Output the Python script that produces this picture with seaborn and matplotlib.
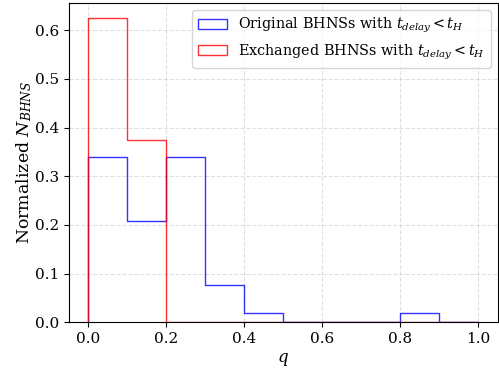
import numpy as np
import pandas as pd
import matplotlib
matplotlib.use("Agg")
import matplotlib.pyplot as plt
from matplotlib.patches import Patch
import seaborn as sns

# Mass-ratio bins and normalized BHNS fractions per bin
bin_edges = [0.0, 0.1, 0.2, 0.3, 0.4, 0.5, 0.6, 0.7, 0.8, 0.9, 1.0]
original_frac = [18/53, 11/53, 18/53, 4/53, 1/53, 0.0, 0.0, 0.0, 1/53, 0.0]
exchanged_frac = [5/8, 3/8, 0.0, 0.0, 0.0, 0.0, 0.0, 0.0, 0.0, 0.0]

series_labels = [r"Original BHNSs with $t_{delay} < t_H$",
                 r"Exchanged BHNSs with $t_{delay} < t_H$"]
series_colors = ["blue", "red"]

sns.set_style("ticks")
plt.rcParams["font.family"] = ["DejaVu Serif"]
plt.rcParams["mathtext.fontset"] = "dejavuserif"
plt.rcParams["text.color"] = "black"
plt.rcParams["axes.labelcolor"] = "black"
plt.rcParams["xtick.color"] = "black"
plt.rcParams["ytick.color"] = "black"
plt.rcParams["axes.edgecolor"] = "black"

edges = np.array(bin_edges)
centers = (edges[:-1] + edges[1:]) / 2

fig = plt.figure(figsize=(4.99, 3.72), dpi=100)
ax = fig.add_axes([0.138, 0.134, 0.86, 0.858])

handles = []
for fracs, lab, col in zip([original_frac, exchanged_frac], series_labels, series_colors):
    df = pd.DataFrame({"q": centers, "w": fracs})
    sns.histplot(data=df, x="q", weights="w", bins=list(bin_edges), element="step",
                 fill=False, color=col, alpha=0.8, linewidth=1.0, ax=ax)
    # closing edge of the outline at the first bin
    ax.vlines(edges[0], 0, fracs[0], color=col, alpha=0.8, linewidth=1.0)
    handles.append(Patch(facecolor="none", edgecolor=col, alpha=0.8, label=lab))

ax.set_xlim(-0.05, 1.05)
ax.set_ylim(0, max(exchanged_frac) * 1.05)
ax.set_xticks(np.arange(0, 1.01, 0.2))
ax.set_yticks(np.arange(0, 0.61, 0.1))
ax.tick_params(labelsize=11)
ax.grid(True, linestyle="--", color="#cccccc", alpha=0.6)
ax.set_xlabel(r"$q$", fontsize=12)
ax.set_ylabel(r"Normalized $N_{BHNS}$", fontsize=12.5, labelpad=1)
ax.legend(handles=handles, loc="upper right", fontsize=10.4)

fig.savefig("out.png", dpi=100)
